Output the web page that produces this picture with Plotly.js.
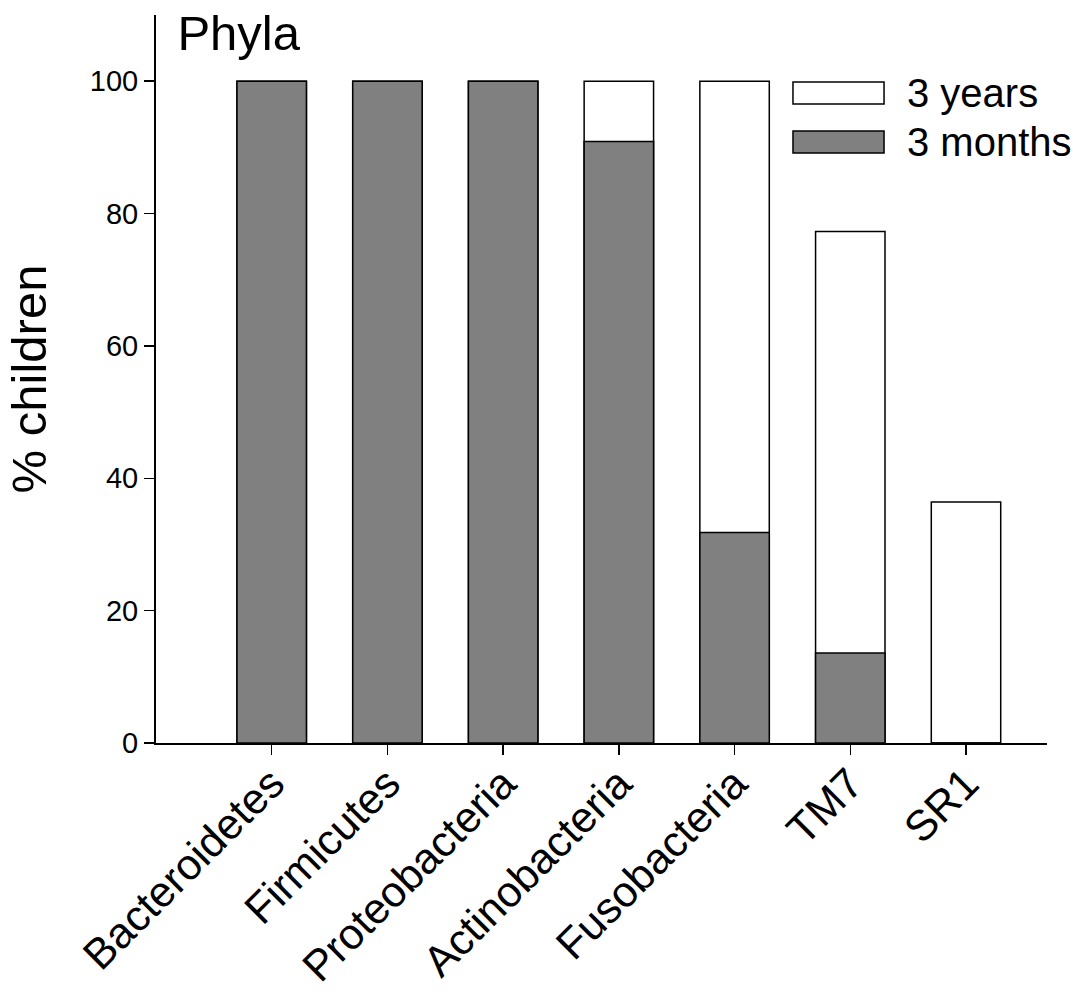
<!DOCTYPE html>
<html>
<head>
<meta charset="utf-8">
<script src="https://cdn.plot.ly/plotly-3.0.1.min.js"></script>
<style>html,body{margin:0;padding:0;background:#fff;}#chart{width:1073px;height:997px;}</style>
</head>
<body>
<div id="chart"></div>
<script>
const categories = ["Bacteroidetes", "Firmicutes", "Proteobacteria", "Actinobacteria", "Fusobacteria", "TM7", "SR1"];
const years3 = [100, 100, 100, 100, 100, 77.3, 36.4];
const months3 = [100, 100, 100, 90.9, 31.8, 13.6, 0];
const yTicks = [0, 20, 40, 60, 80, 100];
const seriesNames = ["3 years", "3 months"];
const seriesColors = ["#ffffff", "#808080"];

const FONT = "Liberation Sans, Arial, sans-serif";
const xIdx = categories.map((c, i) => i);

const traces = [
  {type: "bar", name: seriesNames[0], x: xIdx, y: years3, width: 0.6,
   marker: {color: seriesColors[0], line: {color: "#000", width: 1.5}}, showlegend: false},
  {type: "bar", name: seriesNames[1], x: xIdx, y: months3, width: 0.6,
   marker: {color: seriesColors[1], line: {color: "#000", width: 1.5}}, showlegend: false}
];

// custom legend boxes matching the reference
const legBoxes = [[0.908, 0.8777], [0.8407, 0.8104]];
const shapes = legBoxes.map((b, i) => ({
  type: "rect", xref: "paper", yref: "paper", x0: 0.7149, x1: 0.8171, y0: b[1], y1: b[0],
  fillcolor: seriesColors[i], line: {color: "#000", width: 1.5}
}));
const annotations = seriesNames.map((n, i) => ({
  xref: "paper", yref: "paper", x: 0.841, y: (legBoxes[i][0] + legBoxes[i][1]) / 2,
  xanchor: "left", yanchor: "middle", text: n, showarrow: false,
  font: {family: FONT, size: 40, color: "#000"}
}));

const layout = {
  width: 1073, height: 997,
  margin: {l: 156, r: 26, t: 15, b: 254},
  paper_bgcolor: "#fff", plot_bgcolor: "#fff",
  barmode: "overlay",
  showlegend: false,
  title: {text: "Phyla", font: {family: FONT, size: 49, color: "#000"},
          xref: "paper", x: 0.024, xanchor: "left",
          yref: "container", y: 0.967, yanchor: "middle"},
  xaxis: {
    range: [-1, 6.7], tickvals: xIdx, ticktext: categories, tickangle: -45,
    ticks: "outside", ticklen: 10, tickwidth: 1.5, tickcolor: "#000",
    ticklabelstandoff: -14,
    showline: true, linecolor: "#000", linewidth: 2,
    showgrid: false, zeroline: false,
    tickfont: {family: FONT, size: 43, color: "#000"}
  },
  yaxis: {
    range: [0, 110], tickvals: yTicks,
    ticks: "outside", ticklen: 10, tickwidth: 1.5, tickcolor: "#000",
    showline: true, linecolor: "#000", linewidth: 2,
    showgrid: false, zeroline: false,
    tickfont: {family: FONT, size: 29, color: "#000"},
    title: {text: "% children", font: {family: FONT, size: 49, color: "#000"}, standoff: 28}
  },
  shapes: shapes,
  annotations: annotations
};

Plotly.newPlot("chart", traces, layout, {displayModeBar: false, staticPlot: true});
</script>
</body>
</html>
